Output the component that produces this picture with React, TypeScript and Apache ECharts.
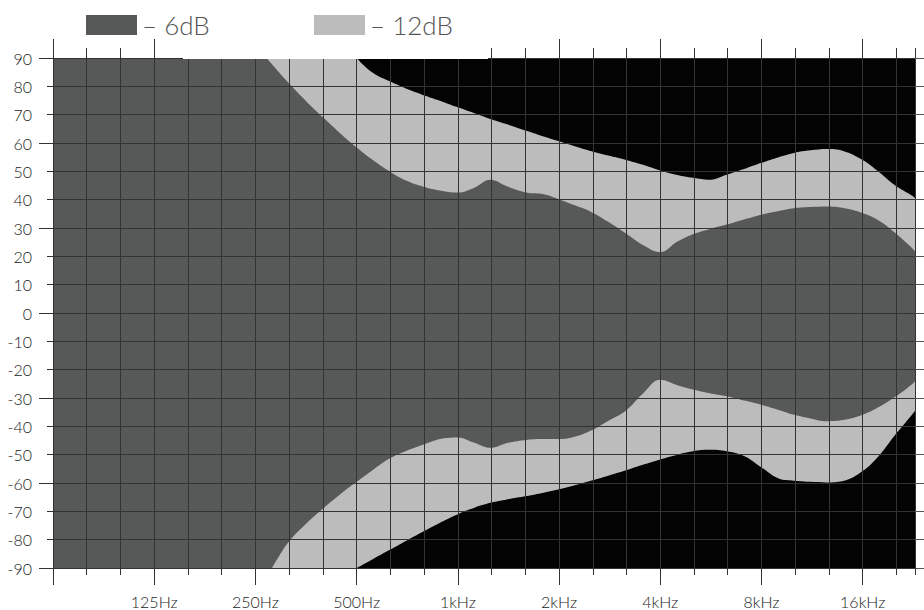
import React, { useEffect, useRef } from "react";
import * as echarts from "echarts";

// Frequencies (Hz) at which the coverage contours were read
const FREQ_HZ = [
  62.5, 250, 270, 280, 315, 355, 400, 450, 500, 560, 630, 710, 800, 900, 1000,
  1120, 1250, 1400, 1600, 1800, 2000, 2240, 2500, 2800, 3150, 3550, 4000, 4500,
  5000, 5600, 6300, 7100, 8000, 9000, 10000, 11200, 12500, 14000, 16000, 18000,
  20000, 22400, 22900,
];

// -6 dB contour, upper / lower angle (deg); values beyond ±90 lie outside the plot
const UPPER_6DB = [
  95, 94.8, 90, 87.8, 81.0, 74.6, 68.7, 63.1, 58.4, 53.9, 49.8, 46.5, 44.4, 43.1,
  42.5, 44.2, 47.0, 44.7, 42.5, 41.9, 40.1, 37.9, 35.6, 32.2, 28.2, 24.0, 21.5,
  25.2, 27.8, 29.6, 31.2, 33.0, 34.7, 36.0, 37.0, 37.4, 37.6, 37.1, 35.3, 32.4,
  28.2, 23.0, 21.7,
];
const LOWER_6DB = [
  -97, -97, -93.2, -90, -80.6, -74.2, -68.7, -63.7, -59.6, -55.3, -51.2, -48.4,
  -46.2, -44.3, -43.9, -45.8, -47.6, -45.9, -44.8, -44.5, -44.5, -43.6, -41.4,
  -38.1, -34.6, -28.5, -23.6, -25.5, -27.0, -28.3, -29.4, -30.9, -32.4, -34.2,
  -35.9, -37.2, -38.2, -37.8, -35.9, -33.0, -29.6, -25.2, -24.1,
];

// -12 dB contour, upper / lower angle (deg)
const UPPER_12DB = [
  105, 105, 105, 105, 105, 105, 103, 97, 90, 84.7, 81.7, 79.0, 76.7, 74.6, 72.6,
  70.5, 68.5, 66.6, 64.3, 62.3, 60.6, 58.8, 57.1, 55.6, 54.1, 52.3, 50.3, 48.7,
  47.7, 47.0, 48.8, 50.8, 53.0, 55.0, 56.5, 57.4, 57.9, 57.2, 54.0, 49.5, 45.0,
  41.5, 40.6,
];
const LOWER_12DB = [
  -97, -97, -97, -97, -97, -97, -96.4, -93.0, -90, -86.8, -83.5, -80.1, -76.8,
  -73.6, -71.0, -68.7, -67.0, -65.8, -64.6, -63.4, -62.2, -60.7, -59.1, -57.4,
  -55.6, -53.6, -51.7, -50.0, -48.8, -48.3, -48.8, -50.5, -54.5, -58.4, -59.2,
  -59.6, -59.8, -59.3, -55.8, -50.0, -43.0, -36.0, -34.5,
];

// Axis definitions
const AXIS_MIN_HZ = 62.5;
const AXIS_MAX_HZ = 22900;
const OCTAVE_TICK_HZ = [62.5, 125, 250, 500, 1000, 2000, 4000, 8000, 16000];
const OCTAVE_LABEL_HZ = [125, 250, 500, 1000, 2000, 4000, 8000, 16000];
const ANGLE_MIN = -90;
const ANGLE_MAX = 90;

const LEGEND_6 = "– 6dB";
const LEGEND_12 = "– 12dB";

const DARK = "#565958";
const LIGHT = "#bcbcbc";
const BG = "#030303";
const GRID_LINE = "#333333";
const FONT = 'Lato, "Open Sans", sans-serif';

const oct = (f: number) => Math.log2(f / 1000);

const fmtHz = (v: number) => {
  const f = 1000 * Math.pow(2, v);
  if (f < 1000) return `${Math.round(f)}Hz`;
  return `${Math.round(f / 1000)}kHz`;
};

export default function App() {
  const ref = useRef<HTMLDivElement>(null);

  useEffect(() => {
    if (!ref.current) return;
    const chart = echarts.init(ref.current, undefined, { renderer: "svg" });
    const xMin = oct(AXIS_MIN_HZ);
    const xMax = oct(AXIS_MAX_HZ);

    const mk = (name: string, vals: number[], color: string) => ({
      type: "line",
      name,
      data: FREQ_HZ.map((f, i) => [oct(f), vals[i]]),
      smooth: 0.4,
      symbol: "none",
      showSymbol: false,
      silent: true,
      clip: true,
      lineStyle: { width: 0, color },
      itemStyle: { color },
      areaStyle: { origin: 0, color, opacity: 1 },
      z: 1,
      xAxisIndex: 0,
      yAxisIndex: 0,
    });

    const baseX = {
      type: "value",
      min: xMin,
      max: xMax,
      axisLine: { show: false, onZero: false, lineStyle: { color: "#333" } },
      axisLabel: { show: false },
      splitLine: { show: false },
      z: 5,
    };
    const baseY = {
      type: "value",
      min: ANGLE_MIN,
      max: ANGLE_MAX,
      axisLine: { show: false, onZero: false, lineStyle: { color: "#333" } },
      axisLabel: { show: false },
      splitLine: { show: false },
      z: 5,
    };

    const legendText = { fontSize: 26, color: "#555", fontFamily: FONT, fontWeight: 300 };

    const option: any = {
      animation: false,
      grid: {
        left: 53,
        right: 9,
        top: 58,
        bottom: 42,
        show: true,
        backgroundColor: BG,
        borderWidth: 0,
      },
      legend: [
        {
          left: 86,
          top: 12,
          padding: 0,
          icon: "rect",
          itemWidth: 51,
          itemHeight: 20,
          selectedMode: false,
          data: [{ name: LEGEND_6, itemStyle: { color: DARK, borderWidth: 0 } }],
          textStyle: legendText,
        },
        {
          left: 314,
          top: 12,
          padding: 0,
          icon: "rect",
          itemWidth: 51,
          itemHeight: 20,
          selectedMode: false,
          data: [{ name: LEGEND_12, itemStyle: { color: LIGHT, borderWidth: 0 } }],
          textStyle: legendText,
        },
      ],
      xAxis: [
        {
          ...baseX,
          position: "bottom",
          interval: 1 / 3,
          axisLine: { show: true, onZero: false, lineStyle: { color: "#333", width: 1 } },
          axisTick: { show: true, inside: false, length: 7, lineStyle: { color: "#333" } },
          splitLine: { show: true, lineStyle: { color: GRID_LINE, width: 1 } },
        },
        {
          ...baseX,
          position: "bottom",
          interval: 1,
          axisTick: {
            show: true,
            length: 17,
            customValues: OCTAVE_TICK_HZ.map(oct),
            lineStyle: { color: "#333" },
          },
          axisLabel: {
            show: true,
            customValues: OCTAVE_LABEL_HZ.map(oct),
            formatter: (v: number) => fmtHz(v),
            margin: 25,
            fontSize: 16,
            fontWeight: 300,
            color: "#222",
            fontFamily: FONT,
          },
        },
        {
          ...baseX,
          position: "top",
          interval: 1 / 3,
          axisLine: { show: true, onZero: false, lineStyle: { color: "#333", width: 1 } },
          axisTick: { show: true, length: 10, lineStyle: { color: "#333" } },
        },
        {
          ...baseX,
          position: "top",
          interval: 1,
          axisTick: {
            show: true,
            length: 19,
            customValues: OCTAVE_TICK_HZ.map(oct),
            lineStyle: { color: "#333" },
          },
        },
      ],
      yAxis: [
        {
          ...baseY,
          position: "left",
          interval: 10,
          axisLine: { show: true, onZero: false, lineStyle: { color: "#333", width: 1 } },
          axisTick: { show: true, length: 6, lineStyle: { color: "#333" } },
          axisLabel: {
            show: true,
            margin: 21,
            fontSize: 16,
            fontWeight: 300,
            color: "#222",
            fontFamily: FONT,
          },
          splitLine: { show: true, lineStyle: { color: GRID_LINE, width: 1 } },
        },
        {
          ...baseY,
          position: "left",
          interval: 30,
          axisTick: { show: true, length: 14, lineStyle: { color: "#333" } },
        },
        {
          ...baseY,
          position: "right",
          interval: 10,
          axisTick: { show: true, length: 12, lineStyle: { color: "#555" } },
        },
      ],
      graphic: [
        {
          type: "rect",
          z: 100,
          shape: { x: 183, y: 36, width: 305, height: 23 },
          style: { fill: "#ffffff" },
          silent: true,
        },
      ],
      series: [
        mk(LEGEND_12, UPPER_12DB, LIGHT),
        mk(LEGEND_12, LOWER_12DB, LIGHT),
        mk(LEGEND_6, UPPER_6DB, DARK),
        mk(LEGEND_6, LOWER_6DB, DARK),
      ],
    };

    chart.setOption(option);
    return () => chart.dispose();
  }, []);

  return (
    <div
      ref={ref}
      style={{ position: "fixed", left: 0, top: 0, width: 924, height: 610, background: "#fff" }}
    />
  );
}
